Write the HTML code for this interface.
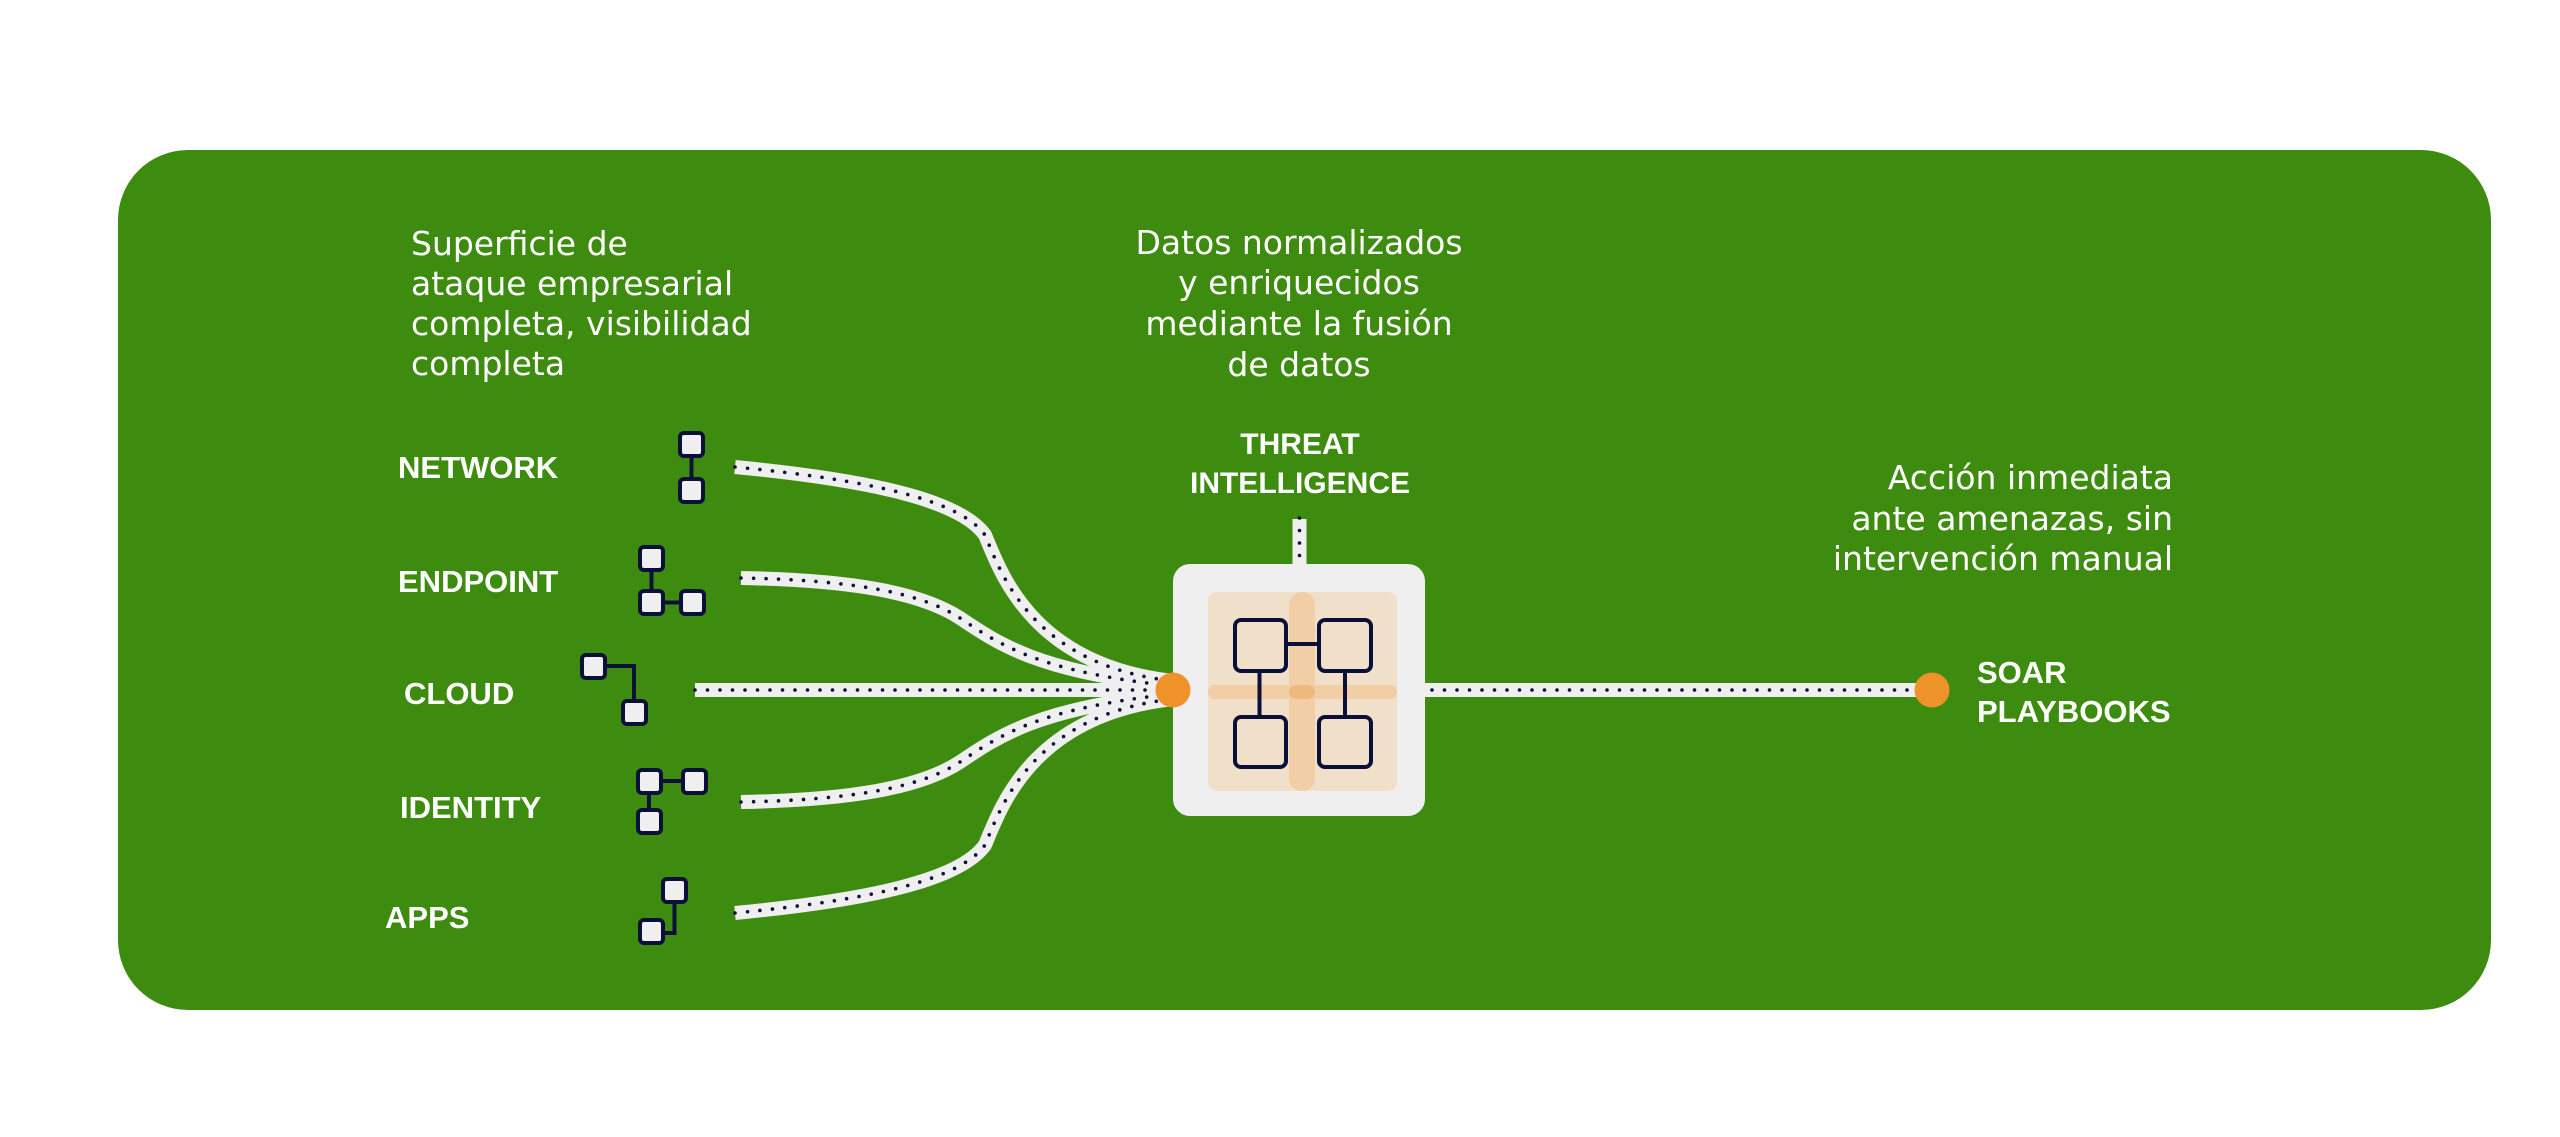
<!DOCTYPE html>
<html>
<head>
<meta charset="utf-8">
<style>
  html, body { margin: 0; padding: 0; background: #ffffff; }
  body { width: 2560px; height: 1137px; overflow: hidden; }
  svg { display: block; }
  .desc { font-family: "DejaVu Sans", "Liberation Sans", sans-serif; font-size: 33px; fill: #ffffff; }
  .lbl { font-family: "Liberation Sans", "DejaVu Sans", sans-serif; font-weight: bold; font-size: 31px; fill: #ffffff; }
  .band { fill: none; stroke: #efefef; stroke-width: 14; }
  .dots { fill: none; stroke: #0b1038; stroke-width: 3.6; stroke-dasharray: 0 12.5; stroke-linecap: round; }
  .ico { fill: #efefef; stroke: #0b1038; stroke-width: 4; }
  .icl { fill: none; stroke: #0b1038; stroke-width: 4; }
  .nd { fill: none; stroke: #0b1038; stroke-width: 4; }
</style>
</head>
<body>
<svg width="2560" height="1137" viewBox="0 0 2560 1137" xmlns="http://www.w3.org/2000/svg">
  <!-- Green panel -->
  <rect x="118" y="150" width="2373" height="860" rx="70" ry="70" fill="#3e8c0f"/>

  <!-- Left description -->
  <text class="desc" x="411" y="255">Superficie de</text>
  <text class="desc" x="411" y="295">ataque empresarial</text>
  <text class="desc" x="411" y="335">completa, visibilidad</text>
  <text class="desc" x="411" y="375">completa</text>

  <!-- Center description -->
  <text class="desc" x="1299" y="254" text-anchor="middle">Datos normalizados</text>
  <text class="desc" x="1299" y="294" text-anchor="middle">y enriquecidos</text>
  <text class="desc" x="1299" y="335" text-anchor="middle">mediante la fusión</text>
  <text class="desc" x="1299" y="376" text-anchor="middle">de datos</text>

  <!-- Threat intelligence -->
  <text class="lbl" x="1300" y="454" text-anchor="middle" style="font-size:30px">THREAT</text>
  <text class="lbl" x="1300" y="493" text-anchor="middle" style="font-size:30px">INTELLIGENCE</text>

  <!-- Right description -->
  <text class="desc" x="2173" y="489" text-anchor="end">Acción inmediata</text>
  <text class="desc" x="2173" y="530" text-anchor="end">ante amenazas, sin</text>
  <text class="desc" x="2173" y="570" text-anchor="end">intervención manual</text>

  <!-- SOAR -->
  <text class="lbl" x="1977" y="683">SOAR</text>
  <text class="lbl" x="1977" y="722">PLAYBOOKS</text>

  <!-- Source labels -->
  <text class="lbl" x="398" y="478">NETWORK</text>
  <text class="lbl" x="398" y="592">ENDPOINT</text>
  <text class="lbl" x="404" y="704">CLOUD</text>
  <text class="lbl" x="400" y="818">IDENTITY</text>
  <text class="lbl" x="385" y="928">APPS</text>

  <!-- Icons -->
  <!-- NETWORK -->
  <line class="icl" x1="691.5" y1="456" x2="691.5" y2="479"/>
  <rect class="ico" x="680" y="433" width="23" height="23" rx="4"/>
  <rect class="ico" x="680" y="479" width="23" height="23" rx="4"/>
  <!-- ENDPOINT -->
  <line class="icl" x1="651.5" y1="570" x2="651.5" y2="591"/>
  <line class="icl" x1="663" y1="602.5" x2="681" y2="602.5"/>
  <rect class="ico" x="640" y="547" width="23" height="23" rx="4"/>
  <rect class="ico" x="640" y="591" width="23" height="23" rx="4"/>
  <rect class="ico" x="681" y="591" width="23" height="23" rx="4"/>
  <!-- CLOUD -->
  <polyline class="icl" points="604,666 634,666 634,701"/>
  <rect class="ico" x="582" y="655" width="23" height="23" rx="4"/>
  <rect class="ico" x="623" y="701" width="23" height="23" rx="4"/>
  <!-- IDENTITY -->
  <line class="icl" x1="661" y1="781" x2="683" y2="781"/>
  <line class="icl" x1="649" y1="793" x2="649" y2="810"/>
  <rect class="ico" x="638" y="770" width="23" height="23" rx="4"/>
  <rect class="ico" x="683" y="770" width="23" height="23" rx="4"/>
  <rect class="ico" x="638" y="810" width="23" height="23" rx="4"/>
  <!-- APPS -->
  <polyline class="icl" points="674.5,902 674.5,933 663,933"/>
  <rect class="ico" x="663" y="879" width="23" height="23" rx="4"/>
  <rect class="ico" x="640" y="920" width="23" height="23" rx="4"/>

  <!-- Connector bands -->
  <path class="band" d="M735,467 C870,480 960,500 985,535 C1000,570 1030,665 1173,681"/>
  <path class="band" d="M741,578 C850,580 920,592 960,618 C1000,645 1040,672 1173,686"/>
  <path class="band" d="M695,690 L1173,690"/>
  <path class="band" d="M741,802 C850,800 920,788 960,762 C1000,735 1040,708 1173,694"/>
  <path class="band" d="M735,913 C870,900 960,880 985,845 C1000,810 1030,715 1173,699"/>
  <path class="band" d="M1299.5,519 L1299.5,570"/>
  <path class="band" d="M1420,690 L1932,690"/>

  <!-- Dots -->
  <path class="dots" d="M735,467 C870,480 960,500 985,535 C1000,570 1030,665 1173,681"/>
  <path class="dots" d="M741,578 C850,580 920,592 960,618 C1000,645 1040,672 1173,686"/>
  <path class="dots" d="M695,690 L1173,690"/>
  <path class="dots" d="M741,802 C850,800 920,788 960,762 C1000,735 1040,708 1173,694"/>
  <path class="dots" d="M735,913 C870,900 960,880 985,845 C1000,810 1030,715 1173,699"/>
  <path class="dots" d="M1299.5,518 L1299.5,565"/>
  <path class="dots" d="M1432,690 L1932,690"/>

  <!-- Center box -->
  <rect x="1173" y="564" width="252" height="252" rx="17" fill="#efefef"/>
  <rect x="1208" y="592" width="189" height="199" rx="9" fill="#f0dfc9"/>
  <rect x="1289" y="592" width="26" height="199" rx="13" fill="#f1cea5"/>
  <rect x="1208" y="685" width="189" height="14" rx="7" fill="#f1cea5"/>
  <rect x="1289" y="685" width="26" height="14" rx="7" fill="#eeb97c"/>

  <line class="nd" x1="1286" y1="644" x2="1319" y2="644"/>
  <line class="nd" x1="1259.5" y1="671" x2="1259.5" y2="717"/>
  <line class="nd" x1="1345" y1="671" x2="1345" y2="717"/>
  <rect class="nd" x="1235" y="620" width="51" height="51" rx="6"/>
  <rect class="nd" x="1319" y="620" width="52" height="51" rx="6"/>
  <rect class="nd" x="1235" y="717" width="51" height="50" rx="6"/>
  <rect class="nd" x="1319" y="717" width="52" height="50" rx="6"/>

  <!-- Orange dots -->
  <circle cx="1173" cy="690" r="17.5" fill="#f0922a"/>
  <circle cx="1932" cy="690" r="17.5" fill="#f0922a"/>
</svg>
</body>
</html>
